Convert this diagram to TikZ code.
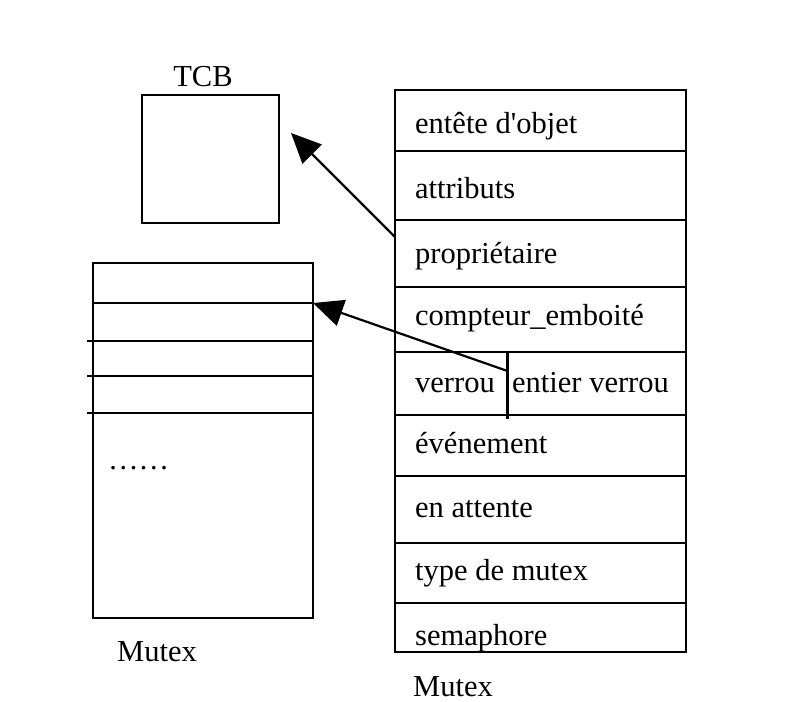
\documentclass[tikz,border=0pt]{standalone}
\usepackage{fontspec}
\setmainfont{Liberation Serif}
\usetikzlibrary{arrows.meta}
\begin{document}
\begin{tikzpicture}[x=1pt,y=-1pt,
  box/.style={draw=black,line width=2.2pt,inner sep=0pt},
  rule/.style={draw=black,line width=2.2pt},
  field/.style={anchor=base west,inner sep=0pt,font=\fontsize{30.5}{34}\selectfont},
  caption/.style={anchor=base west,inner sep=0pt,font=\fontsize{30.5}{34}\selectfont},
  pointer/.style={draw=black,line width=2.2pt,-{Triangle[length=30pt,width=27pt]}}]
\useasboundingbox[fill=white] (0,0) rectangle (804,702);

% TCB block
\node[box,minimum width=137pt,minimum height=128pt] (tcb) at (210.5,159) {};
\node[caption,anchor=base] (tcblabel) at (203,86) {TCB};

% mutex object fields (right)
\foreach \name/\top/\bot in {hdr/90/151,attr/151/220,own/220/287,cnt/287/352,lock/352/415,evt/415/476,wait/476/543,kind/543/603,sem/603/652}{
  \node[box,minimum width=291pt,minimum height={\bot-\top}] (\name) at (540.5,{(\top+\bot)/2}) {};
}
\draw[rule] (507.5,352) -- (507.5,419);
\node[field] (thdr)  at (415,133) {entête d\textquotesingle objet};
\node[field] (tattr) at (415,198) {attributs};
\node[field] (town)  at (415,263) {propriétaire};
\node[field] (tcnt)  at (415,325) {compteur\_emboité};
\node[field] (tlock) at (415,392) {verrou};
\node[field] (tint)  at (512,392) {entier verrou};
\node[field] (tevt)  at (415,453) {événement};
\node[field] (twait) at (415,517) {en attente};
\node[field] (tkind) at (415,580) {type de mutex};
\node[field] (tsem)  at (415,645) {semaphore};
\node[caption] (mutexr) at (413,696) {Mutex};

% mutex list (left)
\node[box,minimum width=220pt,minimum height=355pt] (list) at (203,440.5) {};
\draw[rule] (93,303) -- (313,303);
\draw[rule] (87,341) -- (313,341);
\draw[rule] (87,376) -- (313,376);
\draw[rule] (87,413) -- (313,413);
\node[caption] (dots) at (108,469) {……};
\node[caption] (mutexl) at (117,661) {Mutex};

% pointers
\coordinate (ownsrc) at (395,237);
\coordinate (tcbtip) at (291,133);
\coordinate (locksrc) at (507.5,371);
\coordinate (listtip) at (313,303);
\draw[pointer] (ownsrc) -- (tcbtip);
\draw[pointer] (locksrc) -- (listtip);
\end{tikzpicture}
\end{document}
